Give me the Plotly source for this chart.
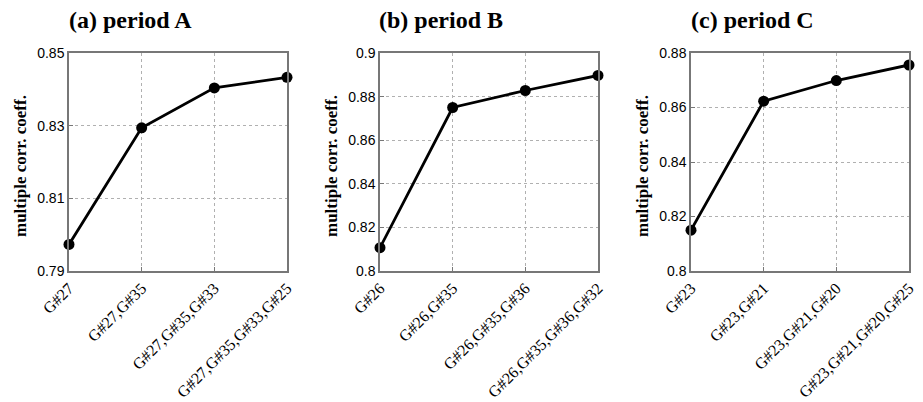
import plotly.graph_objects as go

titles = ["(a) period A", "(b) period B", "(c) period C"]
cats_a = ["G#27", "G#27,G#35", "G#27,G#35,G#33", "G#27,G#35,G#33,G#25"]
cats_b = ["G#26", "G#26,G#35", "G#26,G#35,G#36", "G#26,G#35,G#36,G#32"]
cats_c = ["G#23", "G#23,G#21", "G#23,G#21,G#20", "G#23,G#21,G#20,G#25"]
vals_a = [0.7973, 0.8294, 0.8404, 0.8433]
vals_b = [0.8107, 0.8750, 0.8828, 0.8897]
vals_c = [0.8150, 0.8623, 0.8699, 0.8756]
yticks_a = [0.79, 0.81, 0.83, 0.85]
yticks_b = [0.8, 0.82, 0.84, 0.86, 0.88, 0.9]
yticks_c = [0.8, 0.82, 0.84, 0.86, 0.88]
ylabel = "multiple corr. coeff."

W, H = 923, 402
panels = [
    (cats_a, vals_a, yticks_a, 69, 287),
    (cats_b, vals_b, yticks_b, 380, 598),
    (cats_c, vals_c, yticks_c, 691, 909),
]
top_px, bot_px = 53, 271
ydom = [1 - bot_px / H, 1 - top_px / H]

serif = "Liberation Serif, Times New Roman, serif"
sans = "Liberation Sans, Arial, sans-serif"

fig = go.Figure()
for i, (cats, vals, yt, x0, x1) in enumerate(panels):
    n = "" if i == 0 else str(i + 1)
    fig.add_trace(go.Scatter(
        x=list(range(len(cats))), y=vals, mode="lines+markers",
        line=dict(color="black", width=2.8),
        marker=dict(color="black", size=11),
        xaxis="x" + n, yaxis="y" + n, showlegend=False,
        cliponaxis=False,
    ))
    xdom = [x0 / W, x1 / W]
    fig.update_layout(**{
        "xaxis" + n: dict(
            domain=xdom, anchor="y" + n, range=[0, len(cats) - 1],
            tickmode="array", tickvals=list(range(len(cats))),
            ticktext=cats,
            tickangle=-45, tickfont=dict(family=serif, size=16, color="black"),
            showgrid=True, gridcolor="#b0b0b0", griddash="dot", gridwidth=1,
            showline=True, mirror=True, linecolor="#777777", linewidth=1.5,
            ticks="inside", ticklen=4, tickcolor="#777777", zeroline=False,
            automargin=False,
        ),
        "yaxis" + n: dict(
            domain=ydom, anchor="x" + n, range=[yt[0], yt[-1]],
            tickmode="array", tickvals=yt, ticktext=[f"{v:g}" for v in yt],
            tickfont=dict(family=sans, size=14, color="black"),
            showgrid=True, gridcolor="#b0b0b0", griddash="dot", gridwidth=1,
            showline=True, mirror=True, linecolor="#777777", linewidth=1.5,
            ticks="inside", ticklen=4, tickcolor="#777777", zeroline=False,
            automargin=False,
        ),
    })
    fig.add_annotation(
        text="<b>" + titles[i] + "</b>", xref="paper", yref="paper",
        x=(x0 + 61) / W, y=1 - 20 / H, showarrow=False,
        font=dict(family=serif, size=24, color="black"),
        xanchor="center", yanchor="middle",
    )
    fig.add_annotation(
        text="<b>" + ylabel + "</b>", xref="paper", yref="paper",
        x=(x0 - 49) / W, y=1 - 166 / H, showarrow=False, textangle=-90,
        font=dict(family=serif, size=17, color="black"),
        xanchor="center", yanchor="middle",
    )

fig.update_layout(
    width=W, height=H, margin=dict(l=0, r=0, t=0, b=0),
    paper_bgcolor="white", plot_bgcolor="white",
)
fig.write_html("out.html")
